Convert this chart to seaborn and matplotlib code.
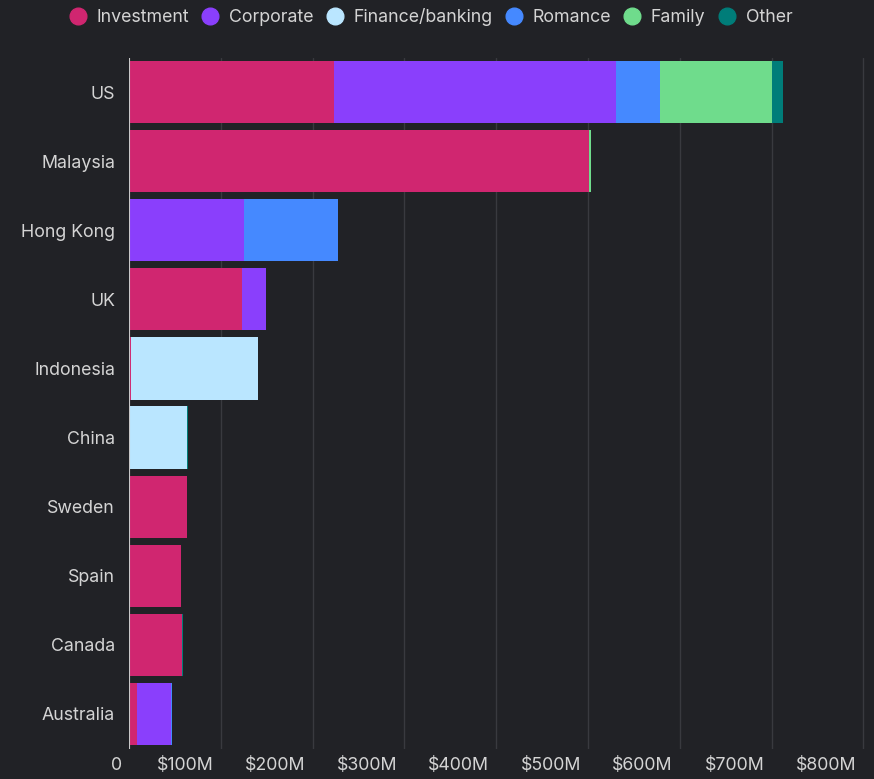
import numpy as np
import pandas as pd
import matplotlib
matplotlib.use("Agg")
import matplotlib.pyplot as plt
import matplotlib.transforms as mtransforms
import seaborn as sns
from matplotlib.lines import Line2D

# Datos (millones de USD)
paises = ["US", "Malaysia", "Hong Kong", "UK", "Indonesia",
          "China", "Sweden", "Spain", "Canada", "Australia"]
categorias = ["Investment", "Corporate", "Finance/banking", "Romance", "Family", "Other"]
investment = [223, 501, 0, 123, 2, 0, 63, 57, 58, 9]
corporate = [307, 0, 125, 26, 0, 1, 0, 0, 0, 37]
finance = [0, 0, 0, 0, 138, 62, 0, 0, 0, 0]
romance = [48, 0, 103, 0, 1, 0, 0, 0, 0, 1]
family = [122, 2, 0, 0, 0, 0, 0, 0, 0, 0]
other = [12, 0, 0, 0, 0, 1, 0, 0, 1, 0]
colores = ["#d02670", "#8a3ffc", "#bae6ff", "#4589ff", "#6fdc8c", "#007d79"]

BG = "#212226"
TXT = "#d4d4d4"
GRID = "#393a3f"
FS = 12.8

sns.set_theme(style="dark")
plt.rcParams["font.family"] = ["Inter", "DejaVu Sans"]

df = pd.DataFrame({"pais": paises, "Investment": investment, "Corporate": corporate,
                   "Finance/banking": finance, "Romance": romance,
                   "Family": family, "Other": other})
acum = df[categorias].cumsum(axis=1)

fig = plt.figure(figsize=(8.74, 7.79), dpi=100, facecolor=BG)
ax = fig.add_axes([129 / 874, 1 - 748.5 / 779, (868 - 129) / 874, (748.5 - 57.5) / 779])
ax.set_facecolor(BG)

# barras apiladas: dibujar de la suma total hacia atrás
for cat, col in reversed(list(zip(categorias, colores))):
    sns.barplot(x=acum[cat], y=df["pais"], orient="h", color=col, width=0.9,
                saturation=1, ax=ax, linewidth=0, zorder=3)

ax.set_xlim(0, 805)
ax.set_xticks(np.arange(0, 900, 100))
ax.set_xticklabels(["0"] + [f"${v}M" for v in range(100, 900, 100)])
ax.tick_params(axis="x", colors=TXT, labelsize=FS, length=0, pad=6)
ax.tick_params(axis="y", colors=TXT, labelsize=FS, length=0, pad=10)
ax.set_xlabel("")
ax.set_ylabel("")
ax.grid(axis="x", color=GRID, linewidth=1, zorder=0)
ax.grid(axis="y", visible=False)
for s in ax.spines.values():
    s.set_visible(False)
ax.axvline(0, color="#c8c8c8", linewidth=1.5, zorder=4)

# etiquetas x alineadas a la derecha, un poco a la izquierda de la rejilla
desp = mtransforms.ScaledTranslation(-7 / 100, 0, fig.dpi_scale_trans)
for lbl in ax.get_xticklabels():
    lbl.set_horizontalalignment("right")
    lbl.set_transform(lbl.get_transform() + desp)

handles = [Line2D([0], [0], marker="o", linestyle="", markersize=12,
                  markerfacecolor=c, markeredgecolor=c) for c in colores]
fig.legend(handles, categorias, loc="upper center", bbox_to_anchor=(0.49, 1.01),
           ncol=6, frameon=False, fontsize=FS, labelcolor=TXT,
           handlelength=1.5, handletextpad=0.3, columnspacing=0.45)

fig.savefig("out.png", dpi=100, facecolor=BG)
